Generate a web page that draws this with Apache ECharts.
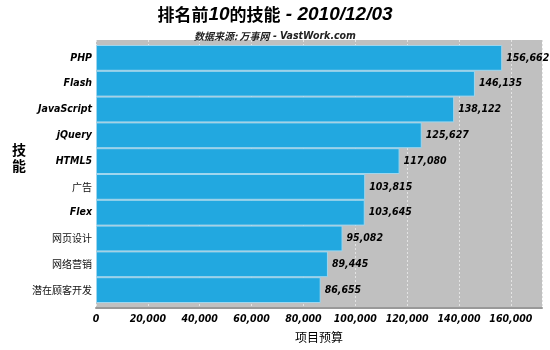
<!DOCTYPE html>
<html><head><meta charset="utf-8">
<script src="https://cdn.jsdelivr.net/npm/echarts@6/dist/echarts.min.js"></script>
<style>html,body{margin:0;padding:0;background:#fff}#c{width:550px;height:350px}</style>
</head><body><div id="c"></div>
<script>
var categories = ['PHP','Flash','JavaScript','jQuery','HTML5','广告','Flex','网页设计','网络营销','潜在顾客开发'];
var values = [156662,146135,138122,125627,117080,103815,103645,95082,89445,86655];
var xTicks = [0,20000,40000,60000,80000,100000,120000,140000,160000];
var FONT = '"DejaVu Sans Condensed","DejaVu Sans","Noto Sans CJK SC",sans-serif';
var CJK = '"Noto Sans CJK SC","DejaVu Sans",sans-serif';
var TFONT = '"Liberation Sans","DejaVu Sans",sans-serif';
function fmt(v){return String(v).replace(/\B(?=(\d{3})+(?!\d))/g, ',');}
var chart = echarts.init(document.getElementById('c'));
chart.setOption({
  animation:false,
  backgroundColor:'#fff',
  title:[{
    text:'{a|排名前}{b|10}{a|的技能}{b| - 2010/12/03}',
    left:'center', top:0,
    textStyle:{rich:{
      a:{fontFamily:CJK,fontSize:17,fontWeight:'bold',color:'#000'},
      b:{fontFamily:TFONT,fontSize:19,fontWeight:'bold',fontStyle:'italic',color:'#000'}
    }}
  },{
    text:'{a|数据来源: 万事网}{b| - VastWork.com}',
    left:'center', top:26,
    textStyle:{rich:{
      a:{fontFamily:CJK,fontSize:10,fontStyle:'italic',color:'#222'},
      b:{fontFamily:FONT,fontSize:10.5,fontWeight:'bold',fontStyle:'italic',color:'#222'}
    }}
  }],
  grid:[
    {left:96,right:8,top:40,bottom:42,show:true,backgroundColor:'#c0c0c0',borderWidth:0,containLabel:false},
    {left:96,right:8,top:45,bottom:47,show:false,containLabel:false}
  ],
  xAxis:[{
    gridIndex:0,type:'value',min:0,max:172000,interval:20000,
    name:'项目预算',nameLocation:'middle',nameGap:23,
    nameTextStyle:{fontFamily:CJK,fontSize:12,color:'#000'},
    axisLine:{show:true,lineStyle:{color:'#999',width:2}},
    axisTick:{show:false},
    axisLabel:{fontFamily:FONT,fontSize:10.5,fontWeight:'bold',fontStyle:'italic',color:'#000',margin:6,
      showMaxLabel:false,formatter:function(v){return xTicks.indexOf(v)>=0?fmt(v):'';}},
    splitLine:{show:true,lineStyle:{color:'#e4e4e4',type:[2,2],width:1}}
  },{
    gridIndex:1,type:'value',min:0,max:172000,show:false
  }],
  yAxis:[{
    gridIndex:0,type:'category',data:categories,show:false
  },{
    gridIndex:1,type:'category',data:categories,inverse:true,
    name:'技\n能\n\n',nameLocation:'middle',nameGap:62,nameRotate:0,
    nameTextStyle:{fontFamily:CJK,fontSize:14,fontWeight:'bold',color:'#000',lineHeight:16},
    axisLine:{show:false},axisTick:{show:false},
    axisLabel:{margin:4,formatter:function(v){
      return /[\u4e00-\u9fa5]/.test(v)?'{c|'+v+'}':'{e|'+v+'}';},
      rich:{
        c:{fontFamily:CJK,fontSize:10,color:'#111'},
        e:{fontFamily:FONT,fontSize:10.5,fontWeight:'bold',fontStyle:'italic',color:'#000'}
      }}
  }],
  series:[{
    type:'bar',xAxisIndex:1,yAxisIndex:1,data:values,
    barCategoryGap:0,
    itemStyle:{color:'#22a8e0',borderColor:'#9fd6ee',borderWidth:1},
    label:{show:true,position:'right',distance:4,formatter:function(p){return fmt(p.value);},
      fontFamily:FONT,fontSize:10.5,fontWeight:'bold',fontStyle:'italic',color:'#000'}
  }]
});
</script></body></html>
